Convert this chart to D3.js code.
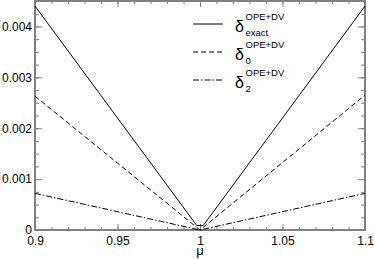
<!DOCTYPE html>
<html><head><meta charset="utf-8">
<script src="https://cdn.jsdelivr.net/npm/d3@7/dist/d3.min.js"></script>
<style>body{margin:0;background:#fff}svg{display:block}text{font-family:"Liberation Sans",Arial,sans-serif}</style>
</head><body>
<svg id="c" width="374" height="259"></svg>
<script>
// Data
const xMajorTicks = [0.9, 0.95, 1.0, 1.05, 1.1];
const yMajorTicks = [0, 0.001, 0.002, 0.003, 0.004];
const muExact = [0.9, 0.998, 1.002, 1.1];
const deltaExact = [0.0044, 0.00009, 0.00009, 0.0044];
const mu0 = [0.9, 1.0, 1.1];
const delta0 = [0.00263, 0.0, 0.00265];
const mu2 = [0.9, 1.0, 1.1];
const delta2 = [0.00072, 0.0, 0.00072];
const seriesNames = ["exact", "0", "2"];

const svg = d3.select("#c");
const L = 35, R = 365, T = 1, B = 230;
const x = d3.scaleLinear().domain([0.9, 1.1]).range([L, R]);
const y = d3.scaleLinear().domain([0, 0.0045]).range([B, T]);
const gray = "#808080";

const xMinor = d3.range(0, 21).map(i => 0.9 + i * 0.01);
const yMinor = d3.range(0, 19).map(i => i * 0.00025);

function styleAxis(g) {
  g.select(".domain").remove();
  g.selectAll(".tick line").attr("stroke", gray).attr("stroke-width", 1);
  g.selectAll(".tick text").attr("fill", "#000").attr("font-size", 12);
}
// bottom
svg.append("g").attr("transform", `translate(0,${B})`)
  .call(d3.axisBottom(x).tickValues(xMinor).tickSize(-3).tickFormat("")).call(styleAxis);
svg.append("g").attr("transform", `translate(0,${B})`)
  .call(d3.axisBottom(x).tickValues(xMajorTicks).tickSize(-6).tickPadding(6)
    .tickFormat(d => d3.format("")(+d.toFixed(2)))).call(styleAxis);
// top
svg.append("g").attr("transform", `translate(0,${T})`)
  .call(d3.axisTop(x).tickValues(xMinor).tickSize(-3).tickFormat("")).call(styleAxis);
svg.append("g").attr("transform", `translate(0,${T})`)
  .call(d3.axisTop(x).tickValues(xMajorTicks).tickSize(-6).tickFormat("")).call(styleAxis);
// left
svg.append("g").attr("transform", `translate(${L},0)`)
  .call(d3.axisLeft(y).tickValues(yMinor).tickSize(-4).tickFormat("")).call(styleAxis);
svg.append("g").attr("transform", `translate(${L},0)`)
  .call(d3.axisLeft(y).tickValues(yMajorTicks).tickSize(-7).tickPadding(3)
    .tickFormat(d => d === 0 ? "0" : d3.format(".3f")(d))).call(styleAxis);
// right
svg.append("g").attr("transform", `translate(${R},0)`)
  .call(d3.axisRight(y).tickValues(yMinor).tickSize(-4).tickFormat("")).call(styleAxis);
svg.append("g").attr("transform", `translate(${R},0)`)
  .call(d3.axisRight(y).tickValues(yMajorTicks).tickSize(-7).tickFormat("")).call(styleAxis);

// frame
svg.append("rect").attr("x", L).attr("y", T).attr("width", R - L).attr("height", B - T)
  .attr("fill", "none").attr("stroke", gray).attr("stroke-width", 2);

const line = d3.line().x(d => x(d[0])).y(d => y(d[1]));
const dashes = [null, "5,3", "6,2,1.5,2"];
const series = [
  d3.zip(muExact, deltaExact),
  d3.zip(mu0, delta0),
  d3.zip(mu2, delta2)
];
series.forEach((s, i) => {
  svg.append("path").datum(s).attr("d", line).attr("fill", "none")
    .attr("stroke", "#000").attr("stroke-width", 1)
    .attr("stroke-dasharray", dashes[i]);
});

// axis label
svg.append("text").attr("x", x(1.0)).attr("y", 255).attr("text-anchor", "middle")
  .attr("font-size", 13).text("μ");

// legend
const legY = [24, 52, 80];
seriesNames.forEach((n, i) => {
  const ly = legY[i];
  svg.append("line").attr("x1", 193).attr("x2", 223).attr("y1", ly).attr("y2", ly)
    .attr("stroke", "#000").attr("stroke-width", 1).attr("stroke-dasharray", dashes[i]);
  svg.append("text").attr("x", 235).attr("y", ly + 8).attr("font-size", 16).text("δ");
  svg.append("text").attr("x", 245.5).attr("y", ly - 4.5).attr("font-size", 9.5).text("OPE+DV");
  svg.append("text").attr("x", 245.5).attr("y", ly + 11.5).attr("font-size", 9.5).text(n);
});
</script>
</body></html>
